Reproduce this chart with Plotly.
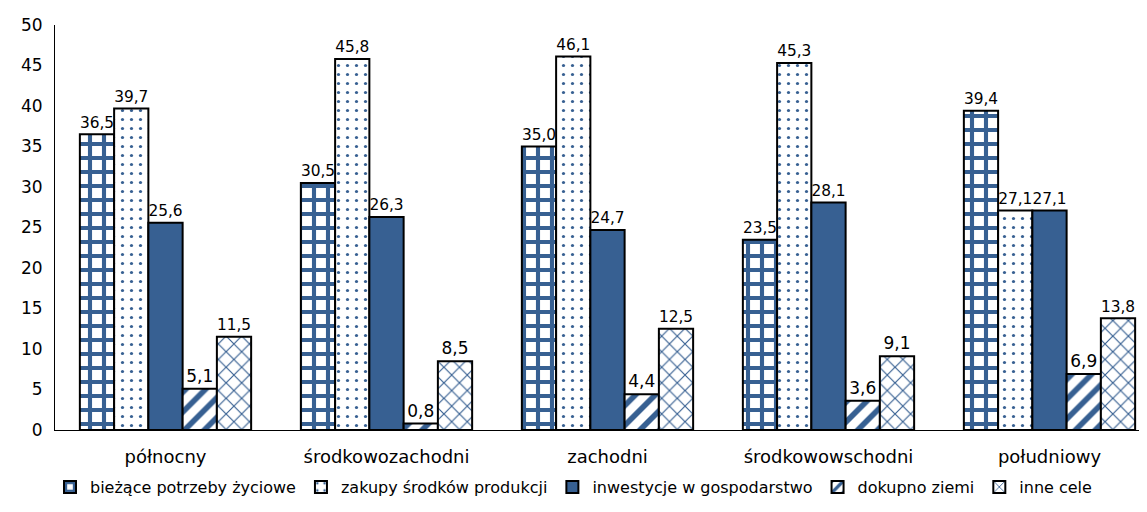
import plotly.graph_objects as go

categories = ["północny", "środkowozachodni", "zachodni", "środkowowschodni", "południowy"]
series_names = ["bieżące potrzeby życiowe", "zakupy środków produkcji", "inwestycje w gospodarstwo",
                "dokupno ziemi", "inne cele"]
biezace = [36.5, 30.5, 35.0, 23.5, 39.4]
zakupy = [39.7, 45.8, 46.1, 45.3, 27.1]
inwestycje = [25.6, 26.3, 24.7, 28.1, 27.1]
dokupno = [5.1, 0.8, 4.4, 3.6, 6.9]
inne = [11.5, 8.5, 12.5, 9.1, 13.8]
y_ticks = [0, 5, 10, 15, 20, 25, 30, 35, 40, 45, 50]

BLUE = "#376092"
FONT = "DejaVu Sans"

patterns = [
    dict(shape="+", fgcolor=BLUE, bgcolor="white", size=14, solidity=0.5, fgopacity=1),
    dict(shape=".", fgcolor=BLUE, bgcolor="white", size=9, solidity=0.1, fgopacity=1),
    dict(shape="", fgcolor=BLUE),
    dict(shape="/", fgcolor=BLUE, bgcolor="white", size=14, solidity=0.4, fgopacity=1),
    dict(shape="x", fgcolor=BLUE, bgcolor="white", size=11, solidity=0.2, fgopacity=1),
]
values = [biezace, zakupy, inwestycje, dokupno, inne]

fig = go.Figure()
for name, vals, pat in zip(series_names, values, patterns):
    fig.add_trace(go.Bar(
        x=categories, y=vals, name=name,
        marker=dict(color=BLUE if pat["shape"] == "" else "white",
                    pattern=pat, line=dict(color="black", width=2)),
        texttemplate="%{y:.1f}", textposition="outside",
        textfont=dict(family=FONT, size=17, color="black"),
        cliponaxis=False,
    ))

# The page body has an 8px margin, so the figure is sized to fill 1147x512 exactly.
fig.update_layout(
    width=1131, height=496,
    margin=dict(l=47, r=0, t=17, b=74),
    plot_bgcolor="white", paper_bgcolor="white",
    separators=", ",
    barmode="group", bargap=0.225, bargroupgap=0,
    font=dict(family=FONT, size=17, color="black"),
    showlegend=True,
    legend=dict(orientation="h", xref="container", yref="container",
                x=0.5, xanchor="center", y=0.0, yanchor="bottom",
                font=dict(family=FONT, size=16), itemwidth=30, tracegroupgap=0,
                bgcolor="rgba(0,0,0,0)"),
    xaxis=dict(range=[-0.5, 4.405], showline=True, linecolor="black", linewidth=1,
               ticks="", showgrid=False, tickfont=dict(family=FONT, size=18), automargin=False,
               ticklabelstandoff=10),
    yaxis=dict(range=[0, 50], tickvals=y_ticks, showline=True, linecolor="black", linewidth=1,
               ticks="", showgrid=False, zeroline=False, tickfont=dict(family=FONT, size=17),
               automargin=False, ticklabelstandoff=8),
)

fig.write_html("out.html")
